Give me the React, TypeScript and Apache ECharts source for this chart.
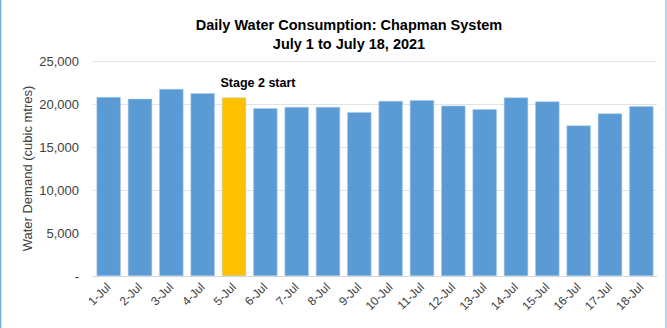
import React, { useEffect, useRef } from "react";
import * as echarts from "echarts";

const categories = ["1-Jul","2-Jul","3-Jul","4-Jul","5-Jul","6-Jul","7-Jul","8-Jul","9-Jul","10-Jul","11-Jul","12-Jul","13-Jul","14-Jul","15-Jul","16-Jul","17-Jul","18-Jul"];
const demand = [20800, 20600, 21750, 21250, 20750, 19500, 19650, 19650, 19050, 20350, 20450, 19800, 19400, 20750, 20300, 17500, 18900, 19750];
const highlightIndex = 4;
const highlightLabel = "Stage 2 start";
const titleLines = ["Daily Water Consumption: Chapman System", "July 1 to July 18, 2021"];
const yAxisName = "Water Demand (cubic mtres)";

export default function App() {
  const ref = useRef<HTMLDivElement>(null);
  useEffect(() => {
    document.body.style.margin = "0";
    const chart = echarts.init(ref.current!, null, { renderer: "svg" });
    const font = "Liberation Sans, Arial, sans-serif";
    chart.setOption({
      animation: false,
      backgroundColor: "#ffffff",
      textStyle: { fontFamily: font },
      title: {
        text: titleLines.join("\n"),
        left: 344,
        top: 10,
        textAlign: "center",
        textStyle: { fontSize: 14.5, fontWeight: "bold", color: "#000", lineHeight: 19.5, fontFamily: font },
      },
      grid: { left: 93, right: 10, top: 61, bottom: 52 },
      xAxis: {
        type: "category",
        data: categories,
        axisLine: { lineStyle: { color: "#d9d9d9" } },
        axisTick: { show: false },
        axisLabel: { rotate: 45, fontSize: 12, color: "#404040", margin: 9, interval: 0, fontFamily: font },
      },
      yAxis: {
        type: "value",
        min: 0,
        max: 25000,
        interval: 5000,
        name: yAxisName,
        nameLocation: "middle",
        nameGap: 59,
        nameMoveOverlap: false,
        nameTextStyle: { fontSize: 13, color: "#404040", fontFamily: font },
        axisLine: { show: false },
        axisTick: { show: false },
        splitLine: { lineStyle: { color: "#e3e3e3" } },
        axisLabel: {
          fontSize: 13,
          color: "#404040",
          margin: 14,
          fontFamily: font,
          formatter: (v: number) => (v === 0 ? "-" : v.toLocaleString("en-US")),
        },
      },
      series: [
        {
          type: "bar",
          barCategoryGap: "23%",
          data: demand.map((v, i) =>
            i === highlightIndex
              ? {
                  value: v,
                  itemStyle: { color: "#ffc000" },
                  label: {
                    show: true,
                    position: "top",
                    formatter: highlightLabel,
                    offset: [24, -3],
                    fontSize: 12.5,
                    fontWeight: "bold",
                    color: "#000",
                    fontFamily: font,
                  },
                }
              : v
          ),
          itemStyle: { color: "#5b9bd5", borderColor: "#a9c9ea", borderWidth: 0.5 },
        },
      ],
      graphic: [
        { type: "line", shape: { x1: 0.5, y1: 0, x2: 0.5, y2: 328 }, style: { stroke: "#6fa8dc", lineWidth: 1.5 } },
        { type: "line", shape: { x1: 666, y1: 0, x2: 666, y2: 328 }, style: { stroke: "#9fc5e8", lineWidth: 1.5 } },
      ],
    });
    return () => chart.dispose();
  }, []);
  return <div ref={ref} style={{ width: 667, height: 328, position: "absolute", left: 0, top: 0 }} />;
}
